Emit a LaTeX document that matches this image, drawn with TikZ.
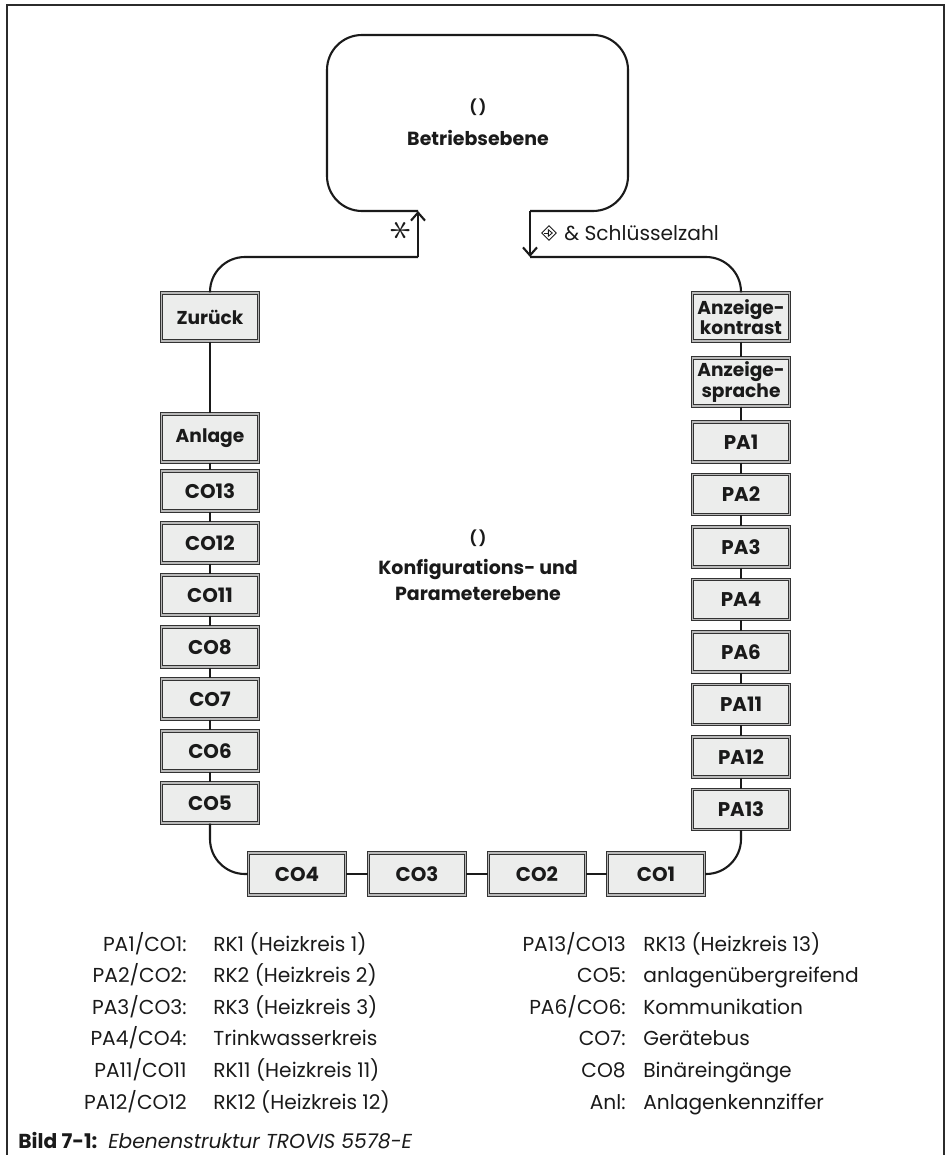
\documentclass[tikz,border=0pt]{standalone}
\usepackage{fontspec}
\setmainfont{Poppins}
\usepackage{tikz}
\usetikzlibrary{arrows.meta,positioning,calc,shapes.geometric}
\definecolor{Ink}{HTML}{1A1A1A}
\definecolor{BoxFill}{HTML}{ECEDEC}
\definecolor{BoxEdge}{HTML}{333333}
\definecolor{Frame}{HTML}{2B2B2B}

\begin{document}
\begin{tikzpicture}[x=0.02cm,y=-0.02cm,
    menu/.style={draw=BoxEdge,double=gray!55,double distance=0.6pt,line width=0.7pt,fill=BoxFill,minimum width=1.94cm,minimum height=0.8cm,inner sep=1pt,align=center,font=\bfseries\fontsize{11.3}{12}\selectfont,text=Ink},
    tall/.style={menu,minimum height=0.96cm,font=\bfseries\fontsize{10.6}{11.5}\selectfont},
    level/.style={align=center,font=\bfseries\fontsize{10.8}{14.5}\selectfont,text=Ink},
    knob/.style={font=\bfseries\fontsize{8.5}{8.5}\selectfont,text=Ink},
    link/.style={draw=Ink,line width=1.2pt},
    arrow/.style={link,-{Straight Barb[length=1.6mm,width=2.8mm]}},
    legend/.style={font=\fontsize{11.5}{13}\selectfont,text=Ink,inner sep=0pt}
]
\useasboundingbox (0,0) rectangle (946,1155);
% frame, open at the bottom
\draw[Frame,line width=1.1pt] (7,1155) -- (7,5) -- (944,5) -- (944,1155);

% Betriebsebene
\coordinate (inL) at (418,211);
\coordinate (outR) at (530,211);
\coordinate (astC) at (418,257);
\coordinate (keyC) at (530,257);
\draw[link,rounded corners=0.7cm] (inL) -- (327,211) -- (327,35) -- (628,35) -- (628,211) -- (outR);
\node[knob] (knobA) at (478,107) {(\,)};
\node[level] (betr) at (478,138) {Betriebsebene};

% left column
\node[tall] (zur) at (210,317) {Zurück};
\node[tall] (anl) at (210,438) {Anlage};
\foreach \n/\y in {CO13/491,CO12/543,CO11/595,CO8/647,CO7/699,CO6/751,CO5/803}
  \node[menu] (\n) at (210,\y) {\n};

% right column
\node[tall] (kon) at (741,317) {Anzeige-\\kontrast};
\node[tall] (spr) at (741,382) {Anzeige-\\sprache};
\foreach \n/\y in {PA1/442,PA2/494.5,PA3/547,PA4/599.5,PA6/652,PA11/704.5,PA12/757,PA13/809.5}
  \node[menu] (\n) at (741,\y) {\n};

% bottom row
\foreach \n/\x in {CO4/297,CO3/417,CO2/537,CO1/656}
  \node[menu,minimum height=0.84cm] (\n) at (\x,874) {\n};

\foreach \a/\b in {zur/anl,anl/CO13,CO13/CO12,CO12/CO11,CO11/CO8,CO8/CO7,CO7/CO6,CO6/CO5}
  \draw[link] (\a) -- (\b);
\foreach \a/\b in {kon/spr,spr/PA1,PA1/PA2,PA2/PA3,PA3/PA4,PA4/PA6,PA6/PA11,PA11/PA12,PA12/PA13}
  \draw[link] (\a) -- (\b);
\foreach \a/\b in {CO4/CO3,CO3/CO2,CO2/CO1}
  \draw[link] (\a) -- (\b);
\draw[link,rounded corners=0.7cm] (CO5.south) |- (CO4.west);
\draw[link,rounded corners=0.7cm] (CO1.east) -| (PA13.south);
\draw[link,rounded corners=0.7cm] (zur.north) |- (astC);
\draw[arrow] (astC) -- (inL);
\draw[arrow] (outR) -- (keyC);
\draw[link,rounded corners=0.7cm] (keyC) -| (kon.north);

\node[rotate=90,font=\fontsize{24}{24}\selectfont,text=Ink,inner sep=0pt] (ast) at (401,231) {$\ast$};
\node[diamond,draw=Ink,line width=0.5pt,minimum size=0.3cm,inner sep=0pt] (keyicon) at (549,233) {};
\draw[Ink,line width=0.5pt,-{Triangle[open,length=1mm,width=1.6mm]}] ($(keyicon.west)!0.2!(keyicon.east)$) -- ($(keyicon.west)!0.75!(keyicon.east)$);
\node[legend,right=0.14cm of keyicon] (keytxt) {\& Schlüsselzahl};

% Konfigurationsebene
\node[knob] (knobB) at (478,538) {(\,)};
\node[level] (konf) at (478,580) {Konfigurations- und\\Parameterebene};

% legend
\foreach \k/\d [count=\i] in {{PA1/CO1:}/{RK1 (Heizkreis 1)},{PA2/CO2:}/{RK2 (Heizkreis 2)},{PA3/CO3:}/{RK3 (Heizkreis 3)},{PA4/CO4:}/{Trinkwasserkreis},{PA11/CO11}/{RK11 (Heizkreis 11)},{PA12/CO12}/{RK12 (Heizkreis 12)}}{
  \node[legend,anchor=base east] (lk\i) at (187,{951+31.6*(\i-1)}) {\k};
  \node[legend,anchor=base west] (ld\i) at (213,{951+31.6*(\i-1)}) {\d};
}
\foreach \k/\d [count=\i] in {{PA13/CO13}/{RK13 (Heizkreis 13)},{CO5:}/{anlagenübergreifend},{PA6/CO6:}/{Kommunikation},{CO7:}/{Gerätebus},{CO8}/{Binäreingänge},{Anl:}/{Anlagenkennziffer}}{
  \node[legend,anchor=base east] (rk\i) at (626,{951+31.6*(\i-1)}) {\k};
  \node[legend,anchor=base west] (rd\i) at (643,{951+31.6*(\i-1)}) {\d};
}
\node[legend,anchor=base west] (cap) at (18,1148) {\textbf{Bild 7-1:}};
\node[legend,anchor=base west] (captxt) at (108,1148) {\textit{Ebenenstruktur TROVIS 5578-E}};
\end{tikzpicture}
\end{document}
